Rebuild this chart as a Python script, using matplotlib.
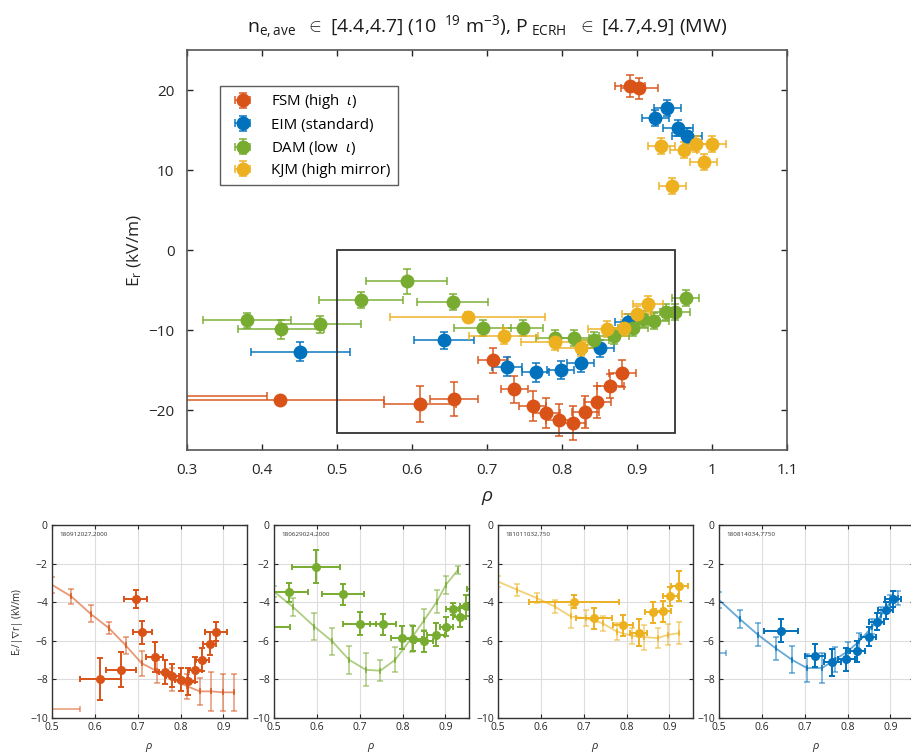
import matplotlib
matplotlib.use("Agg")
import matplotlib.pyplot as plt
from matplotlib.patches import Rectangle

plt.rcParams['font.family'] = ['Open Sans', 'DejaVu Sans']
plt.rcParams['mathtext.fontset'] = 'custom'
plt.rcParams['mathtext.rm'] = 'Open Sans'
plt.rcParams['mathtext.it'] = 'Open Sans:italic'

C_FSM = '#D95319'
C_EIM = '#0072BD'
C_DAM = '#77AC30'
C_KJM = '#EDB120'

# ---- main panel: E_r versus rho for the four configurations ----
fsm_x = [0.25, 0.424, 0.611, 0.656, 0.708, 0.736, 0.761, 0.779, 0.796, 0.814,
         0.831, 0.847, 0.864, 0.880, 0.891, 0.903]
fsm_y = [-18.2, -18.7, -19.25, -18.6, -13.8, -17.4, -19.5, -20.4, -21.25, -21.6,
         -20.2, -19.0, -17.0, -15.4, 20.5, 20.2]
fsm_xerr = [0.157, 0.139, 0.048, 0.032, 0.02, 0.018, 0.018, 0.018, 0.018, 0.018,
            0.018, 0.018, 0.018, 0.018, 0.02, 0.025]
fsm_yerr = [0.3, 0.4, 2.3, 2.1, 1.56, 1.67, 1.9, 1.9, 1.98, 2.1,
            2.0, 2.0, 1.56, 1.67, 1.4, 1.3]

eim_x = [0.451, 0.643, 0.726, 0.765, 0.798, 0.825, 0.851, 0.888, 0.924, 0.940, 0.954, 0.967]
eim_y = [-12.7, -11.3, -14.6, -15.3, -15.0, -14.1, -12.3, -9.0, 16.5, 17.7, 15.25, 14.2]
eim_xerr = [0.066, 0.04, 0.02, 0.018, 0.018, 0.018, 0.018, 0.018, 0.018, 0.018, 0.02, 0.02]
eim_yerr = [1.15, 1.05, 1.2, 1.2, 1.1, 1.1, 1.1, 1.0, 1.0, 1.0, 1.0, 1.0]

dam_x = [0.380, 0.425, 0.477, 0.532, 0.593, 0.654, 0.694, 0.748, 0.790, 0.816,
         0.843, 0.869, 0.895, 0.908, 0.923, 0.939, 0.951, 0.965]
dam_y = [-8.8, -9.9, -9.3, -6.2, -3.9, -6.5, -9.7, -9.7, -11.0, -11.0,
         -11.2, -10.8, -9.8, -8.6, -8.9, -7.8, -7.7, -6.0]
dam_xerr = [0.059, 0.057, 0.055, 0.056, 0.054, 0.047, 0.038, 0.027, 0.025, 0.02,
            0.02, 0.02, 0.02, 0.02, 0.02, 0.02, 0.02, 0.018]
dam_yerr = [0.9, 1.2, 1.1, 1.0, 1.56, 1.0, 1.0, 1.0, 1.0, 1.0,
            1.0, 1.0, 1.0, 1.0, 1.0, 1.0, 1.0, 1.0]

kjm_x = [0.674, 0.722, 0.790, 0.825, 0.860, 0.883, 0.900, 0.915, 0.932, 0.947,
         0.962, 0.979, 0.989, 1.0]
kjm_y = [-8.4, -10.7, -11.5, -12.25, -9.9, -9.8, -8.0, -6.75, 13.0, 8.0,
         12.5, 13.25, 11.0, 13.25]
kjm_xerr = [0.103, 0.046, 0.045, 0.03, 0.025, 0.02, 0.02, 0.02, 0.018, 0.018,
            0.018, 0.018, 0.018, 0.018]
kjm_yerr = [0.6, 1.0, 1.0, 1.0, 1.0, 1.0, 1.0, 1.0, 1.0, 1.0, 1.0, 1.0, 1.0, 1.0]

labels = ['FSM (high  $\\iota$)', 'EIM (standard)', 'DAM (low  $\\iota$)', 'KJM (high mirror)']
main_xticks = [0.3, 0.4, 0.5, 0.6, 0.7, 0.8, 0.9, 1.0, 1.1]
main_xticklabels = ['0.3', '0.4', '0.5', '0.6', '0.7', '0.8', '0.9', '1', '1.1']
main_yticks = [-20, -10, 0, 10, 20]
zoom_box = (0.5, -22.9, 0.95, 0.0)  # rho0, Er0, rho1, Er1

# ---- bottom panels: E_r/|grad r| per discharge ----
shots = ['180912027,2000', '180629024,2000', '181011032,750', '180814034,7750']

p1_x = [0.613, 0.660, 0.695, 0.711, 0.740, 0.764, 0.781, 0.801, 0.818, 0.834, 0.851, 0.868, 0.883]
p1_y = [-7.98, -7.5, -3.83, -5.55, -6.86, -7.62, -7.81, -8.02, -8.1, -7.5, -6.98, -6.16, -5.52]
p1_xerr = [0.048, 0.035, 0.027, 0.023, 0.02, 0.015, 0.015, 0.015, 0.015, 0.015, 0.015, 0.015, 0.025]
p1_yerr = [1.1, 0.9, 0.47, 0.6, 0.78, 0.6, 0.6, 0.6, 0.7, 0.65, 0.6, 0.6, 0.5]
m1_x = [0.45, 0.5, 0.545, 0.59, 0.633, 0.672, 0.709, 0.746, 0.781, 0.816, 0.845, 0.872, 0.898, 0.925]
m1_y = [-9.53, -3.1, -3.7, -4.6, -5.35, -6.24, -7.16, -7.59, -8.0, -8.36, -8.62, -8.62, -8.67, -8.67]
m1_xerr = [0.115, 0, 0, 0, 0, 0, 0, 0, 0, 0, 0, 0, 0, 0]
m1_err = [0.1, 0.4, 0.38, 0.45, 0.3, 0.45, 0.65, 0.6, 0.6, 0.65, 0.7, 1.0, 0.95, 0.95]

p2_x = [0.45, 0.535, 0.598, 0.661, 0.700, 0.755, 0.799, 0.825, 0.850, 0.878, 0.902, 0.917, 0.933, 0.949, 0.965]
p2_y = [-5.31, -3.48, -2.16, -3.59, -5.12, -5.14, -5.83, -5.9, -6.03, -5.69, -5.26, -4.36, -4.79, -4.19, -3.3]
p2_xerr = [0.087, 0.045, 0.055, 0.05, 0.038, 0.03, 0.025, 0.02, 0.02, 0.02, 0.015, 0.015, 0.015, 0.015, 0.015]
p2_yerr = [0.1, 0.5, 0.85, 0.55, 0.6, 0.55, 0.6, 0.65, 0.55, 0.6, 0.5, 0.3, 0.5, 0.55, 0.5]
m2_x = [0.5, 0.545, 0.594, 0.636, 0.675, 0.714, 0.748, 0.783, 0.821, 0.851, 0.880, 0.901, 0.929]
m2_y = [-3.45, -4.26, -5.26, -6.03, -6.98, -7.5, -7.55, -6.98, -5.86, -4.91, -3.97, -3.1, -2.33]
m2_xerr = [0, 0, 0, 0, 0, 0, 0, 0, 0, 0, 0, 0, 0]
m2_err = [0.3, 0.47, 0.7, 0.7, 0.73, 0.86, 0.53, 0.65, 0.7, 0.55, 0.6, 0.45, 0.2]

p3_x = [0.677, 0.724, 0.792, 0.828, 0.862, 0.886, 0.902, 0.923]
p3_y = [-3.97, -4.83, -5.2, -5.57, -4.52, -4.48, -3.7, -3.16]
p3_xerr = [0.105, 0.043, 0.023, 0.02, 0.018, 0.018, 0.018, 0.02]
p3_yerr = [0.35, 0.55, 0.55, 0.7, 0.55, 0.55, 0.5, 0.78]
m3_x = [0.5, 0.545, 0.591, 0.632, 0.670, 0.705, 0.744, 0.777, 0.813, 0.840, 0.873, 0.896, 0.923]
m3_y = [-2.93, -3.36, -3.79, -4.22, -4.74, -4.83, -5.09, -5.52, -5.74, -5.81, -5.86, -5.69, -5.6]
m3_xerr = [0, 0, 0, 0, 0, 0, 0, 0, 0, 0, 0, 0, 0]
m3_err = [0.3, 0.3, 0.25, 0.35, 0.6, 0.4, 0.4, 0.45, 0.4, 0.65, 0.5, 0.55, 0.55]

p4_x = [0.645, 0.724, 0.764, 0.797, 0.823, 0.849, 0.868, 0.889, 0.906]
p4_y = [-5.47, -6.78, -7.12, -6.95, -6.55, -5.78, -5.0, -4.43, -3.84]
p4_xerr = [0.04, 0.023, 0.02, 0.02, 0.018, 0.018, 0.018, 0.018, 0.018]
p4_yerr = [0.58, 0.6, 0.7, 0.6, 0.55, 0.5, 0.45, 0.45, 0.4]
m4_x = [0.48, 0.5, 0.548, 0.591, 0.632, 0.670, 0.705, 0.741, 0.770, 0.800, 0.827, 0.858, 0.879, 0.898, 0.918]
m4_y = [-6.64, -3.88, -4.86, -5.69, -6.38, -6.98, -7.41, -7.41, -6.98, -6.55, -6.03, -5.26, -4.66, -4.05, -3.79]
m4_xerr = [0.037, 0, 0, 0, 0, 0, 0, 0, 0, 0, 0, 0, 0, 0, 0]
m4_err = [0.1, 0.4, 0.47, 0.6, 0.6, 0.7, 0.75, 0.8, 0.65, 0.5, 0.45, 0.4, 0.4, 0.4, 0.35]

sub_xticks = [0.5, 0.6, 0.7, 0.8, 0.9]
sub_yticks = [0, -2, -4, -6, -8, -10]

AX_COL = '#262626'

fig = plt.figure(figsize=(9.12, 7.54), dpi=100)
W, H = 912.0, 754.0


def place(l, t, r, b):
    return [l / W, 1 - b / H, (r - l) / W, (b - t) / H]


ax = fig.add_axes(place(187, 50, 787, 450))
series = [
    (fsm_x, fsm_y, fsm_xerr, fsm_yerr, C_FSM),
    (eim_x, eim_y, eim_xerr, eim_yerr, C_EIM),
    (dam_x, dam_y, dam_xerr, dam_yerr, C_DAM),
    (kjm_x, kjm_y, kjm_xerr, kjm_yerr, C_KJM),
]
handles = []
for (x, y, xe, ye, c), lab in zip(series, labels):
    h = ax.errorbar(x, y, xerr=xe, yerr=ye, fmt='o', color=c, ms=9,
                    mec=c, mfc=c, ecolor=c, elinewidth=1.4, capsize=3,
                    capthick=1.4, label=lab)
    for part in h.lines[1] + h.lines[2]:
        part.set_alpha(0.75)
    handles.append(h)

ax.add_patch(Rectangle((zoom_box[0], zoom_box[1]), zoom_box[2] - zoom_box[0],
                       zoom_box[3] - zoom_box[1], fill=False, ec='#333333', lw=1.3, zorder=5))
ax.set_xlim(0.3, 1.1)
ax.set_ylim(-25, 25)
ax.set_xticks(main_xticks)
ax.set_xticklabels(main_xticklabels)
ax.set_yticks(main_yticks)
ax.tick_params(direction='in', top=True, right=True, length=4, width=1,
               labelsize=11, colors=AX_COL, pad=9)
for s in ax.spines.values():
    s.set_color('#555555')
    s.set_linewidth(1.2)
ax.set_xlabel('$\\rho$', fontsize=14, color=AX_COL, labelpad=8)
ax.set_ylabel('E$_{\\rm r}$ (kV/m)', fontsize=12.5, color=AX_COL, labelpad=3)
ax.set_title('n$_{\\rm e,ave}$  $\\in$ [4.4,4.7] (10$^{\\ \\ 19}$ m$^{-3}$), '
             'P$_{\\ \\rm ECRH}$  $\\in$ [4.7,4.9] (MW)',
             fontsize=14, color='#1a1a1a', pad=12)
leg = ax.legend(handles=handles, loc='upper left', bbox_to_anchor=(0.042, 0.93),
                fontsize=10.8, frameon=True, fancybox=False, edgecolor='#333333',
                handlelength=2.2, handletextpad=0.8, borderpad=0.45, labelspacing=0.42)
leg.get_frame().set_linewidth(1.0)

panels = [
    (p1_x, p1_y, p1_xerr, p1_yerr, m1_x, m1_y, m1_xerr, m1_err, C_FSM),
    (p2_x, p2_y, p2_xerr, p2_yerr, m2_x, m2_y, m2_xerr, m2_err, C_DAM),
    (p3_x, p3_y, p3_xerr, p3_yerr, m3_x, m3_y, m3_xerr, m3_err, C_KJM),
    (p4_x, p4_y, p4_xerr, p4_yerr, m4_x, m4_y, m4_xerr, m4_err, C_EIM),
]
lefts = [52, 274, 498, 719]
for i, (px, py, pxe, pye, mx, my, mxe, me, c) in enumerate(panels):
    sa = fig.add_axes(place(lefts[i], 525, lefts[i] + 195, 718))
    sa.grid(True, color='#dddddd', lw=0.8)
    sa.set_axisbelow(True)
    sa.errorbar(mx, my, xerr=mxe, yerr=me, fmt='-', color=c, lw=1.3, elinewidth=1.1,
                capsize=2, capthick=1.1, alpha=0.6)
    sa.errorbar(px, py, xerr=pxe, yerr=pye, fmt='o', color=c, ms=5.5,
                elinewidth=1.4, capsize=2, capthick=1.4)
    sa.set_xlim(0.5, 0.955)
    sa.set_ylim(-10, 0)
    sa.set_xticks(sub_xticks)
    sa.set_xticklabels(['0.5', '0.6', '0.7', '0.8', '0.9'])
    sa.set_yticks(sub_yticks)
    sa.tick_params(direction='in', top=True, right=True, length=3, width=0.8,
                   labelsize=7.5, colors=AX_COL, pad=3)
    for s in sa.spines.values():
        s.set_color('#333333')
        s.set_linewidth(1.0)
    sa.text(0.04, 0.965, shots[i], transform=sa.transAxes, fontsize=4.5,
            color='#333333', va='top', ha='left')
    sa.set_xlabel('$\\rho$', fontsize=8, color=AX_COL, labelpad=6)
    if i == 0:
        sa.set_ylabel('E$_{\\rm r}$/|$\\nabla$r| (kV/m)', fontsize=7, color=AX_COL, labelpad=4)

fig.savefig('out.png', dpi=100)
